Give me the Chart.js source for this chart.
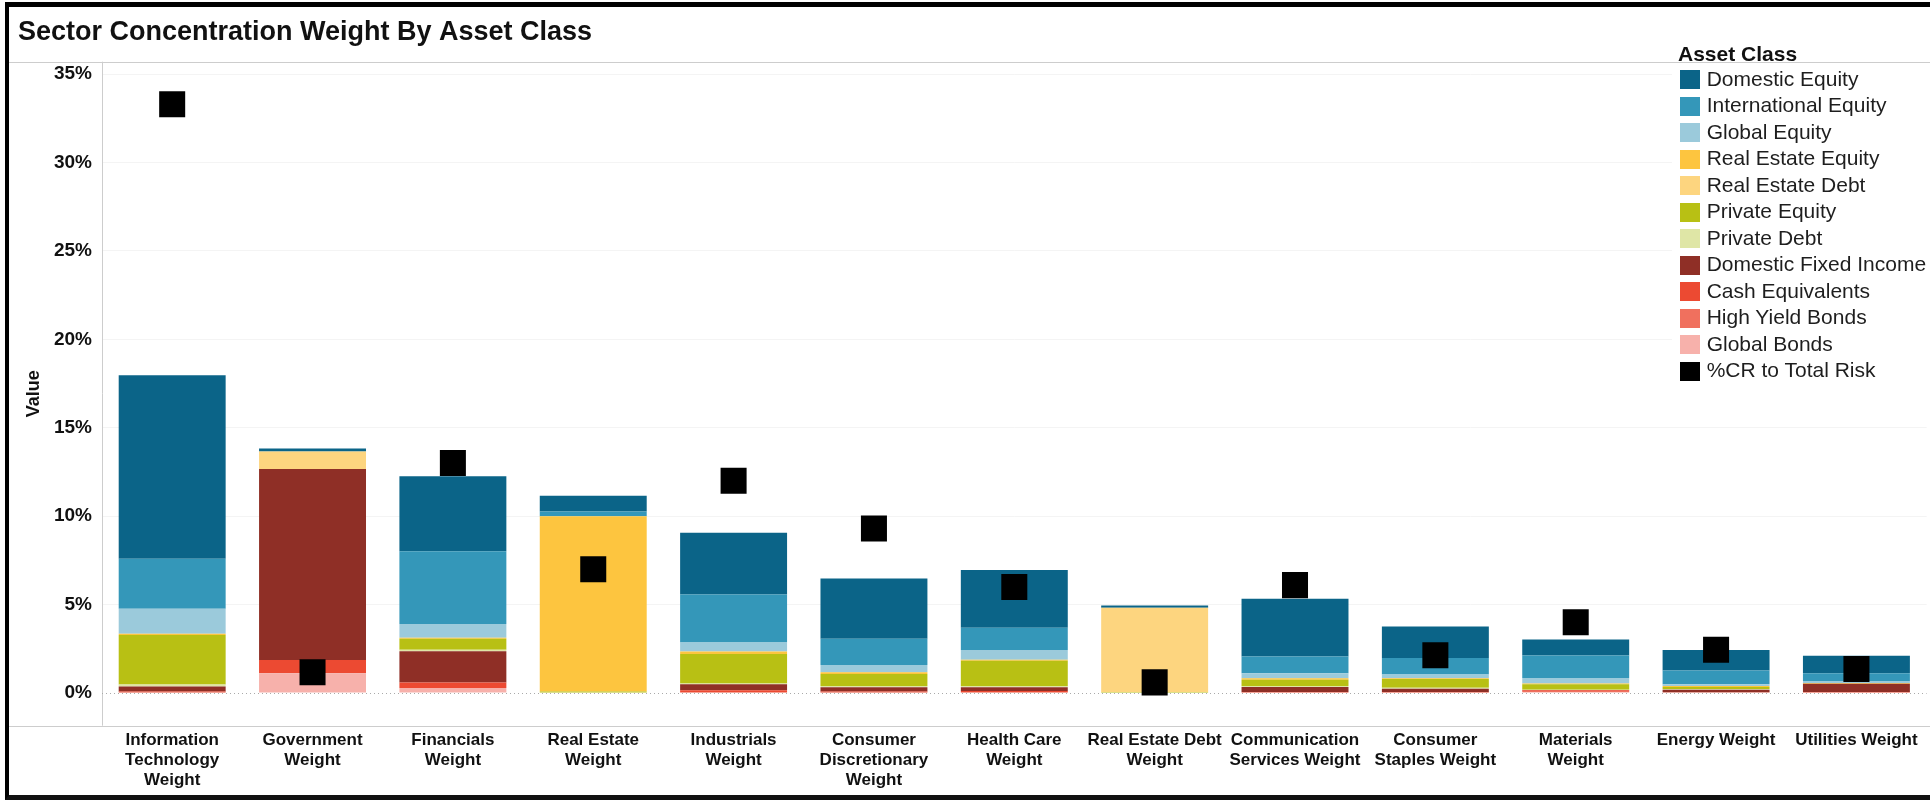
<!DOCTYPE html>
<html>
<head>
<meta charset="utf-8">
<title>Sector Concentration Weight By Asset Class</title>
<script src="https://cdn.jsdelivr.net/npm/chart.js@4.4.1/dist/chart.umd.min.js"></script>
<style>
  html, body { margin: 0; padding: 0; background: #fff; overflow: hidden; }
  #wrap { position: relative; width: 1930px; height: 801px; overflow: hidden; background: #fff; }
  #chart { position: absolute; left: 0; top: 0; }
  #frame {
    position: absolute; left: 5px; top: 2px; width: 2000px; height: 798px;
    box-sizing: border-box; border-top: 5px solid #000; border-left: 4px solid #000;
    border-bottom: 5px solid #111; pointer-events: none;
  }
  .legend-title {
    position: absolute; left: 1678px; top: 43px;
    font: bold 21px/21px 'Liberation Sans', Arial, sans-serif; color: #111;
  }
  #legend {
    position: absolute; left: 1672px; top: 63px; width: 258px; height: 322px;
    background: #fff; padding-top: 2.5px; box-sizing: border-box;
    font: 21px 'Liberation Sans', Arial, sans-serif; color: #1e1e1e;
  }
  .row { position: relative; height: 26.5px; line-height: 26.5px; white-space: nowrap; }
  .sw { position: absolute; left: 8px; top: 4.7px; width: 20px; height: 19px; }
  .txt { position: absolute; left: 34.7px; top: 0; }
</style>
</head>
<body>
<div id="wrap">
  <canvas id="chart" width="1945" height="801" style="width:1945px;height:801px"></canvas>
  <div class="legend-title">Asset Class</div>
  <div id="legend"></div>
  <div id="frame"></div>
</div>
<script>
// categories (x axis), multi-line labels as in the original
const categories = [
  ['Information', 'Technology', 'Weight'],
  ['Government', 'Weight'],
  ['Financials', 'Weight'],
  ['Real Estate', 'Weight'],
  ['Industrials', 'Weight'],
  ['Consumer', 'Discretionary', 'Weight'],
  ['Health Care', 'Weight'],
  ['Real Estate Debt', 'Weight'],
  ['Communication', 'Services Weight'],
  ['Consumer', 'Staples Weight'],
  ['Materials', 'Weight'],
  ['Energy Weight'],
  ['Utilities Weight'],
];

// values in % per asset class, one per category
const domesticEquity      = [10.38, 0.18, 4.24, 0.90, 3.49, 3.41, 3.27, 0.13, 3.27, 1.78, 0.90, 1.16, 0.99];
const internationalEquity = [2.83, 0, 4.11, 0.26, 2.71, 1.49, 1.26, 0, 0.94, 0.93, 1.27, 0.78, 0.47];
const globalEquity        = [1.41, 0, 0.78, 0, 0.52, 0.41, 0.55, 0, 0.28, 0.21, 0.32, 0.10, 0.09];
const realEstateEquity    = [0.07, 0, 0.05, 9.92, 0.13, 0.09, 0.05, 0, 0.09, 0.05, 0.04, 0.05, 0.04];
const realEstateDebt      = [0, 0.99, 0, 0, 0, 0, 0, 4.77, 0, 0, 0, 0, 0];
const privateEquity       = [2.80, 0, 0.62, 0.08, 1.68, 0.69, 1.44, 0.05, 0.36, 0.49, 0.30, 0.12, 0];
const privateDebt         = [0.12, 0, 0.09, 0, 0.04, 0.06, 0.06, 0, 0.05, 0.06, 0.02, 0.03, 0];
const domesticFixedIncome = [0.28, 10.80, 1.77, 0, 0.34, 0.24, 0.22, 0, 0.28, 0.18, 0.02, 0.15, 0.46];
const cashEquivalents     = [0.08, 0.75, 0.31, 0, 0.15, 0.09, 0.11, 0, 0.06, 0.06, 0.04, 0.04, 0.06];
const highYieldBonds      = [0, 0, 0, 0, 0, 0, 0, 0, 0, 0, 0.07, 0, 0];
const globalBonds         = [0, 1.11, 0.28, 0, 0, 0, 0, 0, 0, 0, 0.04, 0, 0];
const crToTotalRisk       = [33.3, 1.17, 13.0, 7.0, 12.0, 9.3, 6.0, 0.6, 6.1, 2.13, 4.0, 2.45, 1.35];

const yTicks = [0, 5, 10, 15, 20, 25, 30, 35];

// legend order (top of the stack first)
const assetClasses = [
  { name: 'Domestic Equity', values: domesticEquity, color: '#0b6488' },
  { name: 'International Equity', values: internationalEquity, color: '#3497b9' },
  { name: 'Global Equity', values: globalEquity, color: '#9bcadb' },
  { name: 'Real Estate Equity', values: realEstateEquity, color: '#fdc53f' },
  { name: 'Real Estate Debt', values: realEstateDebt, color: '#fdd57f' },
  { name: 'Private Equity', values: privateEquity, color: '#b8c014' },
  { name: 'Private Debt', values: privateDebt, color: '#dfe6a6' },
  { name: 'Domestic Fixed Income', values: domesticFixedIncome, color: '#8f2f26' },
  { name: 'Cash Equivalents', values: cashEquivalents, color: '#ec4a32' },
  { name: 'High Yield Bonds', values: highYieldBonds, color: '#f0705e' },
  { name: 'Global Bonds', values: globalBonds, color: '#f7b1ab' },
];
const riskLabel = '%CR to Total Risk';

Chart.defaults.font.family = "'Liberation Sans', Arial, Helvetica, sans-serif";
Chart.defaults.color = '#111';

// grey frame lines and dotted zero line (tableau look)
const frameLines = {
  id: 'frameLines',
  beforeDatasetsDraw(chart) {
    const { ctx, chartArea, scales } = chart;
    ctx.save();
    ctx.strokeStyle = '#cdcdcd';
    ctx.lineWidth = 1;
    ctx.beginPath();
    ctx.moveTo(9, Math.round(chartArea.top) + 0.5);
    ctx.lineTo(chart.width, Math.round(chartArea.top) + 0.5);
    ctx.moveTo(9, Math.round(chartArea.bottom) + 0.5);
    ctx.lineTo(chart.width, Math.round(chartArea.bottom) + 0.5);
    ctx.moveTo(Math.round(chartArea.left) + 0.5, chartArea.top);
    ctx.lineTo(Math.round(chartArea.left) + 0.5, chartArea.bottom);
    ctx.stroke();

    const y0 = Math.round(scales.y.getPixelForValue(0)) + 0.5;
    ctx.strokeStyle = '#aaaaaa';
    ctx.setLineDash([1, 3]);
    ctx.beginPath();
    ctx.moveTo(chartArea.left, y0);
    ctx.lineTo(chartArea.right, y0);
    ctx.stroke();
    ctx.restore();
  },
};

// stacking goes bottom-up, so reverse the legend order
const barDatasets = assetClasses.slice().reverse().map((a) => ({
  label: a.name,
  data: a.values,
  backgroundColor: a.color,
  borderWidth: 0,
  categoryPercentage: 1,
  barPercentage: 0.762,
  stack: 'weights',
  order: 1,
}));

const riskDataset = {
  type: 'line',
  label: riskLabel,
  data: crToTotalRisk,
  showLine: false,
  pointStyle: 'rect',
  pointRadius: 18.4,
  pointHoverRadius: 18.4,
  pointBorderWidth: 0,
  backgroundColor: '#000',
  borderColor: '#000',
  stack: 'risk',
  order: 0,
};

const chart = new Chart(document.getElementById('chart'), {
  type: 'bar',
  data: {
    labels: categories,
    datasets: [...barDatasets, riskDataset],
  },
  options: {
    responsive: false,
    animation: false,
    layout: { padding: { left: 18, right: 5.3, top: 0, bottom: 0 } },
    plugins: {
      legend: { display: false },
      tooltip: { enabled: false },
      title: {
        display: true,
        text: 'Sector Concentration Weight By Asset Class',
        align: 'start',
        color: '#111',
        font: { size: 27, weight: 'bold' },
        padding: { top: 16.7, bottom: 12.6 },
      },
    },
    scales: {
      x: {
        stacked: true,
        grid: { display: false, drawTicks: false },
        border: { display: false },
        ticks: {
          color: '#111',
          font: { size: 17, weight: 'bold', lineHeight: 1.15 },
          padding: 5.3,
          maxRotation: 0,
          autoSkip: false,
        },
        afterFit: (s) => { s.height = 75.3; },
      },
      y: {
        stacked: true,
        min: -1.85,
        max: 35.7,
        afterBuildTicks: (s) => { s.ticks = yTicks.map((v) => ({ value: v })); },
        grid: {
          color: (c) => (c.tick && c.tick.value === 0 ? 'rgba(0,0,0,0)' : '#f4f4f4'),
          drawTicks: false,
        },
        border: { display: false },
        ticks: {
          padding: 10,
          color: '#111',
          font: { size: 19, weight: 'bold' },
          callback: (v) => v + '%',
        },
        title: {
          display: true,
          text: 'Value',
          color: '#111',
          font: { size: 18, weight: 'bold' },
          padding: { top: 5.2, bottom: 0 },
        },
        afterFit: (s) => { s.width = 84; },
      },
    },
  },
  plugins: [frameLines],
});

// html legend built from the same series list
const legendEl = document.getElementById('legend');
const legendItems = assetClasses.map((a) => ({ name: a.name, color: a.color }));
legendItems.push({ name: riskLabel, color: '#000' });
legendItems.forEach((item) => {
  const row = document.createElement('div');
  row.className = 'row';
  const sw = document.createElement('span');
  sw.className = 'sw';
  sw.style.background = item.color;
  const txt = document.createElement('span');
  txt.className = 'txt';
  txt.textContent = item.name;
  row.appendChild(sw);
  row.appendChild(txt);
  legendEl.appendChild(row);
});
</script>
</body>
</html>
